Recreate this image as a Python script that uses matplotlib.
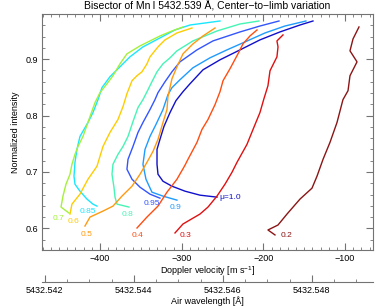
"""Bisector of Mn I 5432.539 A, centre-to-limb variation."""

import matplotlib
matplotlib.use("Agg")
import matplotlib.pyplot as plt
from matplotlib.ticker import MultipleLocator, FormatStrFormatter

plt.rcParams["font.family"] = ["Liberation Sans", "DejaVu Sans"]
plt.rcParams["mathtext.fontset"] = "custom"
plt.rcParams["mathtext.rm"] = "Liberation Sans"
plt.rcParams["mathtext.it"] = "Liberation Sans:italic"

# ---------------------------------------------------------------------------
# Data: bisector curves (Doppler velocity [m/s], normalised intensity),
# listed from line core (bottom) to wing (top)
# ---------------------------------------------------------------------------
mu_labels = ["\u03bc=1.0", "0.95", "0.9", "0.85", "0.8", "0.7", "0.6",
             "0.5", "0.4", "0.3", "0.2"]

v_10 = [-256.8, -277.6, -296.0, -311.9, -322.9, -329.0, -330.2, -330.2,
        -326.6, -321.7, -314.3, -307.0, -298.4, -289.8, -273.9, -253.1,
        -228.6, -204.2, -179.7, -155.2, -139.3]
i_10 = [0.6554, 0.6589, 0.666, 0.6748, 0.6836, 0.696, 0.7136, 0.74,
        0.7577, 0.7806, 0.8053, 0.8265, 0.8423, 0.8564, 0.8811, 0.8988,
        0.9164, 0.9341, 0.9482, 0.9605, 0.9676]

v_095 = [-326.6, -338.8, -351.0, -360.8, -367.0, -365.7, -359.6, -353.5,
         -347.4, -338.8, -332.7, -329.0, -320.4, -311.9, -302.1, -281.3,
         -261.7, -228.6, -204.2, -180.9]
i_095 = [0.6536, 0.6607, 0.673, 0.6871, 0.7048, 0.7224, 0.7453, 0.77,
         0.7877, 0.8106, 0.8282, 0.8406, 0.86, 0.8776, 0.8952, 0.9164,
         0.9323, 0.9482, 0.9587, 0.9676]

v_09 = [-305.8, -322.9, -336.4, -343.7, -347.4, -344.9, -338.8, -331.5,
        -322.9, -316.8, -311.9, -302.1, -286.2, -265.4, -244.6, -222.5,
        -198.0, -173.6, -147.9]
i_09 = [0.6501, 0.6572, 0.6642, 0.6871, 0.7136, 0.74, 0.763, 0.7841,
        0.8106, 0.837, 0.8494, 0.8635, 0.8847, 0.9023, 0.9164, 0.9305,
        0.9464, 0.9587, 0.9676]

v_085 = [-403.7, -408.6, -415.9, -424.5, -430.6, -431.8, -430.6, -428.2,
         -424.5, -414.7, -408.6, -402.4, -397.6, -387.8, -375.5, -363.3,
         -347.4, -326.6, -308.2, -289.8, -253.1]
i_085 = [0.6395, 0.643, 0.6519, 0.666, 0.6783, 0.6924, 0.7171, 0.74,
         0.763, 0.7877, 0.8053, 0.8282, 0.8494, 0.8688, 0.8864, 0.9041,
         0.9217, 0.9376, 0.9517, 0.9605, 0.9676]

v_08 = [-364.5, -379.2, -381.6, -382.9, -385.3, -384.1, -378.0, -371.8,
        -365.7, -359.6, -353.5, -347.4, -341.2, -336.4, -330.2, -322.9,
        -314.3, -305.8, -286.2, -256.8, -228.6, -205.4]
i_08 = [0.6378, 0.643, 0.6554, 0.673, 0.696, 0.7136, 0.7312, 0.7453,
        0.763, 0.7894, 0.8141, 0.8282, 0.8459, 0.86, 0.8776, 0.8917,
        0.9023, 0.9147, 0.9323, 0.9499, 0.9623, 0.9676]

v_07 = [-437.9, -447.7, -445.3, -441.6, -436.7, -434.3, -430.6, -426.9,
        -420.8, -412.2, -406.1, -400.0, -391.4, -384.1, -375.5, -367.0,
        -351.0, -326.6, -311.9, -298.4]
i_07 = [0.6272, 0.6378, 0.6572, 0.6783, 0.696, 0.7136, 0.7312, 0.7453,
        0.763, 0.7982, 0.8229, 0.8406, 0.8564, 0.8706, 0.8917, 0.9094,
        0.9235, 0.9411, 0.9499, 0.957]

v_06 = [-436.7, -434.3, -424.5, -414.7, -403.7, -396.3, -387.8, -378.0,
        -371.8, -367.0, -360.8, -354.7, -348.6, -342.5, -338.8, -329.0,
        -320.4, -305.8, -287.4]
i_06 = [0.6254, 0.643, 0.6607, 0.6871, 0.7101, 0.7453, 0.77, 0.793,
        0.8159, 0.8388, 0.8617, 0.8706, 0.8776, 0.8917, 0.9041, 0.9217,
        0.9341, 0.9464, 0.9552]

v_05 = [-418.4, -412.2, -396.3, -384.1, -373.1, -360.8, -351.0, -342.5,
        -335.1, -329.0, -322.9, -318.0, -316.8, -311.9, -305.8, -298.4,
        -286.2, -273.9, -259.2]
i_05 = [0.6042, 0.6201, 0.6307, 0.6395, 0.6572, 0.6748, 0.696, 0.7171,
        0.7365, 0.7577, 0.7877, 0.8106, 0.8335, 0.8653, 0.8864, 0.9094,
        0.927, 0.9411, 0.9552]

v_04 = [-354.7, -342.5, -329.0, -318.0, -305.8, -296.0, -292.3, -281.3,
        -275.2, -267.8, -259.2, -253.1, -249.4, -240.9, -231.1, -225.0,
        -216.4, -207.8]
i_04 = [0.6007, 0.6201, 0.6395, 0.6642, 0.6871, 0.7118, 0.7224, 0.7524,
        0.7753, 0.793, 0.8194, 0.8423, 0.8617, 0.8829, 0.9094, 0.927,
        0.9411, 0.9517]

v_03 = [-308.2, -298.4, -277.6, -267.8, -256.8, -247.0, -238.4, -232.3,
        -220.1, -212.7, -204.2, -199.3, -194.4, -191.9, -183.4, -182.1,
        -183.4, -176.0]
i_03 = [0.5919, 0.6078, 0.6254, 0.6378, 0.6572, 0.6783, 0.6995, 0.7171,
        0.7489, 0.7753, 0.8053, 0.83, 0.8529, 0.8794, 0.9041, 0.9217,
        0.9323, 0.9429]

v_02 = [-185.8, -194.4, -182.1, -171.1, -155.2, -140.5, -134.4, -127.0,
        -118.5, -109.9, -102.6, -96.4, -94.0, -85.4, -94.0, -90.3, -83.0]
i_02 = [0.5884, 0.5972, 0.606, 0.6254, 0.6519, 0.6713, 0.6924, 0.7224,
        0.7524, 0.7877, 0.8282, 0.8441, 0.8706, 0.8952, 0.9147, 0.9358,
        0.957]

velocities = [v_10, v_095, v_09, v_085, v_08, v_07, v_06, v_05, v_04,
              v_03, v_02]
intensities = [i_10, i_095, i_09, i_085, i_08, i_07, i_06, i_05, i_04,
               i_03, i_02]

colors = ["#1010cc", "#3355ff", "#1e9bff", "#19e6ff", "#45f5b5",
          "#a5f03c", "#ffcc00", "#ff9a10", "#ff4d10", "#e01010", "#8b1515"]

# label offsets (pixels) from the core end of each curve, with alignment
label_offsets = [(2, 0, "left"), (-8, -5, "center"), (-1, -7, "center"),
                 (-9, -5, "center"), (-1, -7, "center"), (-11, -5, "center"),
                 (4, -7, "center"), (2, -8, "center"), (1, -8, "center"),
                 (11, -3, "center"), (12, -1, "center")]

# wavelength scale: linear in velocity around the -400 m/s reference
lam_ref, v_ref, dlam_dv = 5432.54324, -400.0, 1.836e-5
v_lim = (-470.6, -66.2)
i_lim = (0.5617, 0.98)


def v2lam(v):
    return lam_ref + (v - v_ref) * dlam_dv


# ---------------------------------------------------------------------------
# Figure
# ---------------------------------------------------------------------------
W, H = 389, 306
x0, x1, y_top, y_bot, y_wav = 42.3, 372.7, 14.0, 250.0, 282.0

fig = plt.figure(figsize=(W / 100, H / 100), dpi=100)
ax = fig.add_axes([x0 / W, 1 - y_bot / H, (x1 - x0) / W, (y_bot - y_top) / H])

for v, inten, col, lab, (dx, dy, ha) in zip(
        velocities, intensities, colors, mu_labels, label_offsets):
    ax.plot(v, inten, color=col, lw=1.0)
    ax.annotate(lab, xy=(v[0], inten[0]), xytext=(dx, dy),
                textcoords="offset pixels", ha=ha, va="center",
                color=col, fontsize=6)

ax.set_xlim(*v_lim)
ax.set_ylim(*i_lim)

spine_col = "0.45"
for s in ax.spines.values():
    s.set_color(spine_col)
    s.set_linewidth(0.8)

ax.xaxis.set_major_locator(MultipleLocator(100))
ax.xaxis.set_minor_locator(MultipleLocator(10))
ax.yaxis.set_major_locator(MultipleLocator(0.1))
ax.yaxis.set_minor_locator(MultipleLocator(0.02))
ax.yaxis.set_major_formatter(FormatStrFormatter("%.1f"))
ax.tick_params(which="both", direction="in", top=True, right=True,
               color=spine_col, labelsize=6.5, pad=3)
ax.tick_params(which="major", length=5, width=0.8)
ax.tick_params(which="minor", length=2.5, width=0.6)
ax.xaxis.set_major_formatter(
    plt.FuncFormatter(lambda x, p: f"{x:.0f}".replace("-", "\u2212")))

ax.set_xlabel("Doppler velocity [m s$^{-1}$]", fontsize=6.5, labelpad=1)
ax.set_ylabel("Normalized intensity", fontsize=6.5, labelpad=4)
ax.set_title("Bisector of Mn\u2009I 5432.539 \u00c5, Center\u2212to\u2212limb variation",
             fontsize=7.5, pad=3)

# separate wavelength axis below the plot
wav = fig.add_axes([x0 / W, 1 - y_wav / H, (x1 - x0) / W, 1e-4])
wav.patch.set_visible(False)
for side in ("top", "left", "right"):
    wav.spines[side].set_visible(False)
wav.spines["bottom"].set_color(spine_col)
wav.spines["bottom"].set_linewidth(0.8)
wav.set_yticks([])
wav.set_xlim(v2lam(v_lim[0]), v2lam(v_lim[1]))
wav.xaxis.set_major_locator(MultipleLocator(0.002))
wav.xaxis.set_minor_locator(MultipleLocator(0.0005))
wav.xaxis.set_major_formatter(FormatStrFormatter("%.3f"))
wav.tick_params(which="both", direction="in", color=spine_col,
                labelsize=6.5, pad=3)
wav.tick_params(which="major", length=5, width=0.8)
wav.tick_params(which="minor", length=2.5, width=0.6)
wav.set_xlabel("Air wavelength [\u00c5]", fontsize=6.5, labelpad=0.5)

fig.savefig("out.png", dpi=100)
